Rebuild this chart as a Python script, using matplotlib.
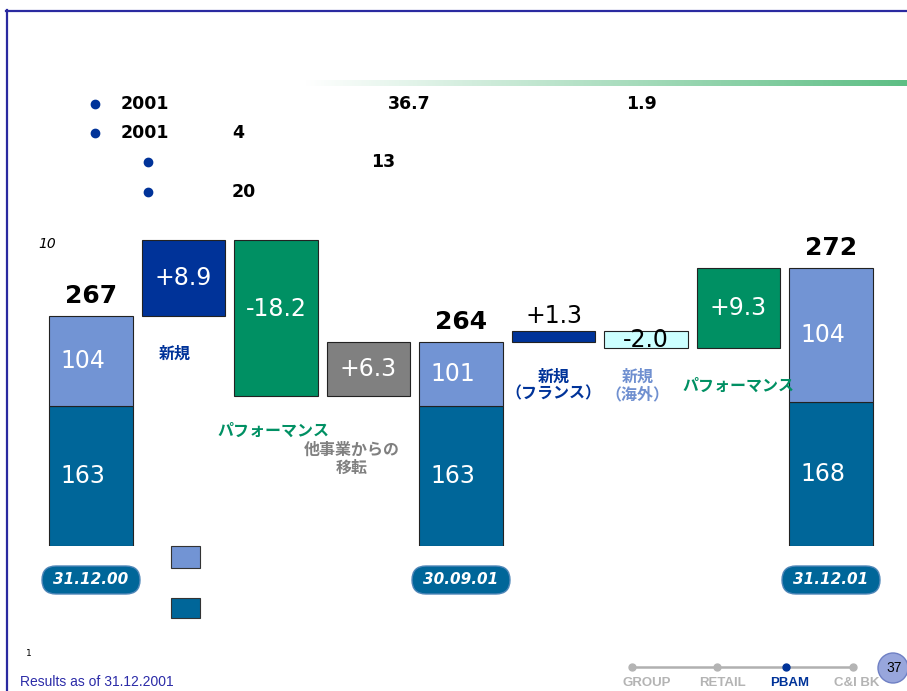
import numpy as np
import matplotlib
matplotlib.use("Agg")
import matplotlib.pyplot as plt
from matplotlib.patches import Rectangle, FancyBboxPatch, Circle
from matplotlib.colors import LinearSegmentedColormap

# --- data -------------------------------------------------------------------
totals = [267, 264, 272]                 # 31.12.00, 30.09.01, 31.12.01
totals_lower = [163, 163, 168]
totals_upper = [104, 101, 104]
total_dates = ["31.12.00", "30.09.01", "31.12.01"]
total_slots = [0, 4, 8]

deltas = [8.9, -18.2, 6.3, 1.3, -2.0, 9.3]
delta_labels = ["+8.9", "-18.2", "+6.3", "+1.3", "-2.0", "+9.3"]
delta_slots = [1, 2, 3, 5, 6, 7]
delta_names = ["新規", "パフォーマンス", "他事業からの\n移転",
               "新規\n（フランス）", "新規\n（海外）", "パフォーマンス"]

bullet_rows = [["2001", "36.7", "1.9"], ["2001", "4"], ["13"], ["20"]]

nav_items = ["GROUP", "RETAIL", "PBAM", "C&I BK"]

# --- style ------------------------------------------------------------------
C_UPPER = "#7294d4"
C_LOWER = "#006699"
delta_colors = ["#003399", "#009063", "#808080", "#003399", "#ccffff", "#009063"]
name_colors = ["#003399", "#009063", "#808080", "#003399", "#7090d0", "#009063"]
delta_text_colors = ["white", "white", "white", "black", "black", "white"]
# offsets (points) of the category names below each change bar
name_dx = [-6, -2, -12, 0, -6, 0]
name_dy = [-21, -19, -33, -19, -15, -21]
CJK = ["Noto Sans CJK JP", "DejaVu Sans"]

W, H = 907, 691
fig = plt.figure(figsize=(W / 100, H / 100), dpi=100)

# background axes in pixel coordinates for slide decoration
bg = fig.add_axes([0, 0, 1, 1])
bg.set_xlim(0, W)
bg.set_ylim(H, 0)
bg.axis("off")

# frame
bg.plot([6, W], [10.5, 10.5], color="#2a2aa0", lw=1.6)
bg.plot([7, 7], [10, H], color="#2a2aa0", lw=1.6)

# gradient band
cmap = LinearSegmentedColormap.from_list("g", ["#ffffff", "#5dbe84"])
grad = np.linspace(0, 1, 256).reshape(1, -1)
bg.imshow(grad, cmap=cmap, extent=(305, W, 86, 80), aspect="auto", zorder=1)
bg.set_xlim(0, W)
bg.set_ylim(H, 0)

# bullets
bullet_pos = [(95, 104, [121, 388, 626]), (95, 133, [121, 232]),
              (148, 162, [371]), (148, 192, [232])]
for (bx, by, xs), row in zip(bullet_pos, bullet_rows):
    bg.plot(bx, by, "o", color="#003399", ms=6)
    for tx, s in zip(xs, row):
        bg.text(tx, by, s, fontsize=12.5, fontweight="bold", va="center", ha="left")

bg.text(38, 244, "10", fontsize=10, style="italic", va="center")

# legend squares (labels absent in the source)
bg.add_patch(Rectangle((171, 546), 29, 22, fc=C_UPPER, ec="#333333", lw=0.8))
bg.add_patch(Rectangle((171, 598), 29, 20, fc=C_LOWER, ec="#333333", lw=0.8))

# footer
bg.text(26, 654, "1", fontsize=6.5, va="center")
bg.text(20, 682, "Results as of 31.12.2001", fontsize=10, color="#2b2ba8",
        family="Liberation Sans", va="center")
nav_x = [632, 717, 786, 853]
label_x = [647, 722, 790, 857]
bg.plot([nav_x[0], nav_x[-1]], [667, 667], color="#b0b0b0", lw=1.8, zorder=2)
for nx, lx, name in zip(nav_x, label_x, nav_items):
    col = "#003399" if name == "PBAM" else "#b4b4b4"
    bg.plot(nx, 667, "o", color=col, ms=5, zorder=3)
    bg.text(lx, 683, name, fontsize=9.5, fontweight="bold", color=col,
            family="Liberation Sans", ha="center", va="center")
bg.add_patch(Circle((893, 668), 15, fc="#98a6dc", ec="#6f80c4", lw=1, zorder=4))
bg.text(894, 668, "37", fontsize=10, ha="center", va="center", zorder=5,
        family="Liberation Sans")

# --- waterfall chart --------------------------------------------------------
# totals are drawn at 1/10 the scale of the changes (broken axis)
levels = [totals[0]]
for d in deltas:
    levels.append(levels[-1] + d)
tops = [levels[0], levels[3], levels[6]]
base = totals[0] - totals[0] / 10

px_per_unit = 8.6
ax_left, ax_right = 44.75, 877.25
ax_bot, ax_top = 546, 230
ax = fig.add_axes([ax_left / W, (H - ax_bot) / H,
                   (ax_right - ax_left) / W, (ax_bot - ax_top) / H])
ax.patch.set_visible(False)
ax.set_xlim(-0.5, 8.5)
ax.set_ylim(base, base + (ax_bot - ax_top) / px_per_unit)
ax.axis("off")

bw = 0.908
low_h = [v / 10 for v in totals_lower]
ax.bar(total_slots, low_h, bw, bottom=base, color=C_LOWER, edgecolor="#222222", lw=0.8)
up_bottom = [base + h for h in low_h]
up_h = [t - b for t, b in zip(tops, up_bottom)]
ax.bar(total_slots, up_h, bw, bottom=up_bottom, color=C_UPPER, edgecolor="#222222", lw=0.8)

for s, t, lo, up, lh, uh, ub in zip(total_slots, totals, totals_lower, totals_upper,
                                    low_h, up_h, up_bottom):
    top = ub + uh
    ax.annotate(str(t), (s, top), xytext=(0, 6), textcoords="offset points",
                ha="center", va="bottom", fontsize=18, fontweight="bold")
    ax.text(s - bw / 2 + 0.12, ub + uh / 2, str(up), color="white", fontsize=17,
            va="center", ha="left")
    ax.text(s - bw / 2 + 0.12, base + lh / 2, str(lo), color="white", fontsize=17,
            va="center", ha="left")

prev = levels[:-1]
ax.bar(delta_slots, deltas, bw, bottom=prev, color=delta_colors,
       edgecolor="#222222", lw=0.8)

for i, (s, d, lab, p) in enumerate(zip(delta_slots, deltas, delta_labels, prev)):
    lo, hi = min(p, p + d), max(p, p + d)
    if abs(d) < 1.5:
        ax.annotate(lab, (s, hi), xytext=(0, 2), textcoords="offset points",
                    ha="center", va="bottom", fontsize=17, color=delta_text_colors[i])
    else:
        ax.text(s, max((lo + hi) / 2, hi - 8), lab, ha="center", va="center",
                fontsize=17, color=delta_text_colors[i])
    ax.annotate(delta_names[i], (s, lo), xytext=(name_dx[i], name_dy[i]),
                textcoords="offset points", ha="center", va="top", fontsize=11.5,
                fontweight="bold", family=CJK, color=name_colors[i], linespacing=1.1)

# date pills
for s, d in zip(total_slots, total_dates):
    cx = ax.transData.transform((s, base))[0]
    bg.add_patch(FancyBboxPatch((cx - 49, 566), 98, 28,
                                boxstyle="round,pad=0,rounding_size=14",
                                fc=C_LOWER, ec="#4f86b8", lw=1, zorder=3))
    bg.text(cx, 580, d, color="white", fontsize=11, fontweight="bold",
            style="italic", ha="center", va="center", zorder=4)

fig.savefig("out.png", dpi=100)
